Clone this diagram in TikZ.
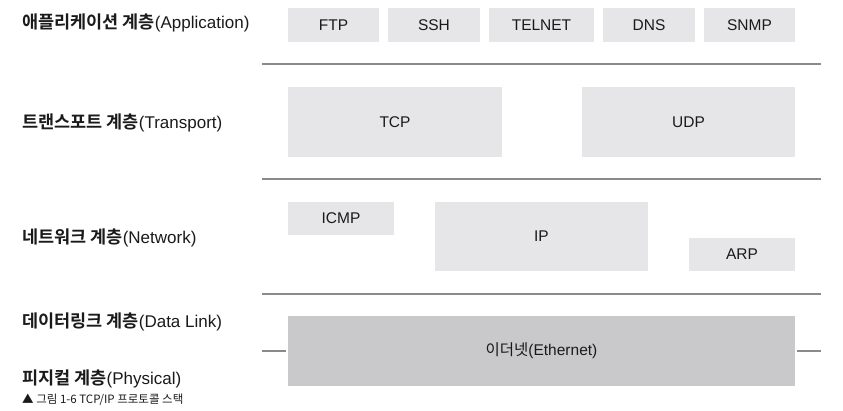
\documentclass[tikz,border=0pt]{standalone}
\usepackage{fontspec}
\setmainfont{Liberation Sans}
\newfontfamily\kr{Noto Sans CJK KR}
\newfontfamily\krb{Noto Sans CJK KR Bold}
\definecolor{boxgray}{HTML}{E6E6E8}
\definecolor{darkbox}{HTML}{C9C9CB}
\definecolor{linegray}{HTML}{8A8A8A}
\definecolor{ink}{HTML}{1A1A1A}
\newcommand{\krlab}[1]{{\krb\fontsize{17.5}{20}\selectfont #1}}
\newcommand{\enlab}[1]{{\fontsize{17}{20}\selectfont #1}}
\begin{document}
\begin{tikzpicture}[x=1pt,y=-1pt,
  proto/.style={fill=boxgray, inner sep=0pt, text=ink,
    font=\fontsize{15.5}{18}\selectfont},
  ether/.style={proto, fill=darkbox},
  layer/.style={anchor=west, inner sep=0pt, text=ink},
  sep/.style={draw=linegray, line width=2pt},
  caption/.style={anchor=west, inner sep=0pt, text=ink,
    font=\kr\fontsize{11.5}{13}\selectfont}]
\useasboundingbox[fill=white] (0,0) rectangle (843,411);
% Application layer
\node[proto, minimum width=91pt, minimum height=34pt] (ftp) at (333.5,25) {FTP};
\node[proto, minimum width=92pt, minimum height=34pt] (ssh) at (434,25) {SSH};
\node[proto, minimum width=105pt, minimum height=34pt] (telnet) at (541.5,25) {TELNET};
\node[proto, minimum width=92pt, minimum height=34pt] (dns) at (649,25) {DNS};
\node[proto, minimum width=91pt, minimum height=34pt] (snmp) at (749.5,25) {SNMP};
% Transport layer
\node[proto, minimum width=214pt, minimum height=70pt] (tcp) at (395,122) {TCP};
\node[proto, minimum width=213pt, minimum height=70pt] (udp) at (688.5,122) {UDP};
% Network layer
\node[proto, minimum width=106pt, minimum height=33pt] (icmp) at (341,218.5) {ICMP};
\node[proto, minimum width=213pt, minimum height=69pt] (ip) at (541.5,236.5) {IP};
\node[proto, minimum width=106pt, minimum height=33pt] (arp) at (742,254.5) {ARP};
% Link / physical
\node[ether, minimum width=507pt, minimum height=70pt] (eth) at (541.5,351) {{\kr 이더넷}(Ethernet)};
% separators
\coordinate (s1l) at (262,64);  \coordinate (s1r) at (821,64);
\coordinate (s2l) at (262,179); \coordinate (s2r) at (821,179);
\coordinate (s3l) at (262,294); \coordinate (s3r) at (821,294);
\coordinate (el) at (262,351);  \coordinate (er) at (821,351);
\draw[sep] (s1l) -- (s1r);
\draw[sep] (s2l) -- (s2r);
\draw[sep] (s3l) -- (s3r);
\draw[sep] (el) -- ([xshift=-2pt]eth.west);
\draw[sep] ([xshift=2pt]eth.east) -- (er);
% layer labels
\node[layer] (lapp) at (22,23) {\krlab{애플리케이션 계층}\enlab{(Application)}};
\node[layer] (ltra) at (22,123) {\krlab{트랜스포트 계층}\enlab{(Transport)}};
\node[layer] (lnet) at (22,238) {\krlab{네트워크 계층}\enlab{(Network)}};
\node[layer] (ldl) at (22,322) {\krlab{데이터링크 계층}\enlab{(Data Link)}};
\node[layer] (lphy) at (22,379) {\krlab{피지컬 계층}\enlab{(Physical)}};
\node[caption] (cap) at (22,399.5) {▲ 그림 1-6 TCP/IP 프로토콜 스택};
\end{tikzpicture}
\end{document}
